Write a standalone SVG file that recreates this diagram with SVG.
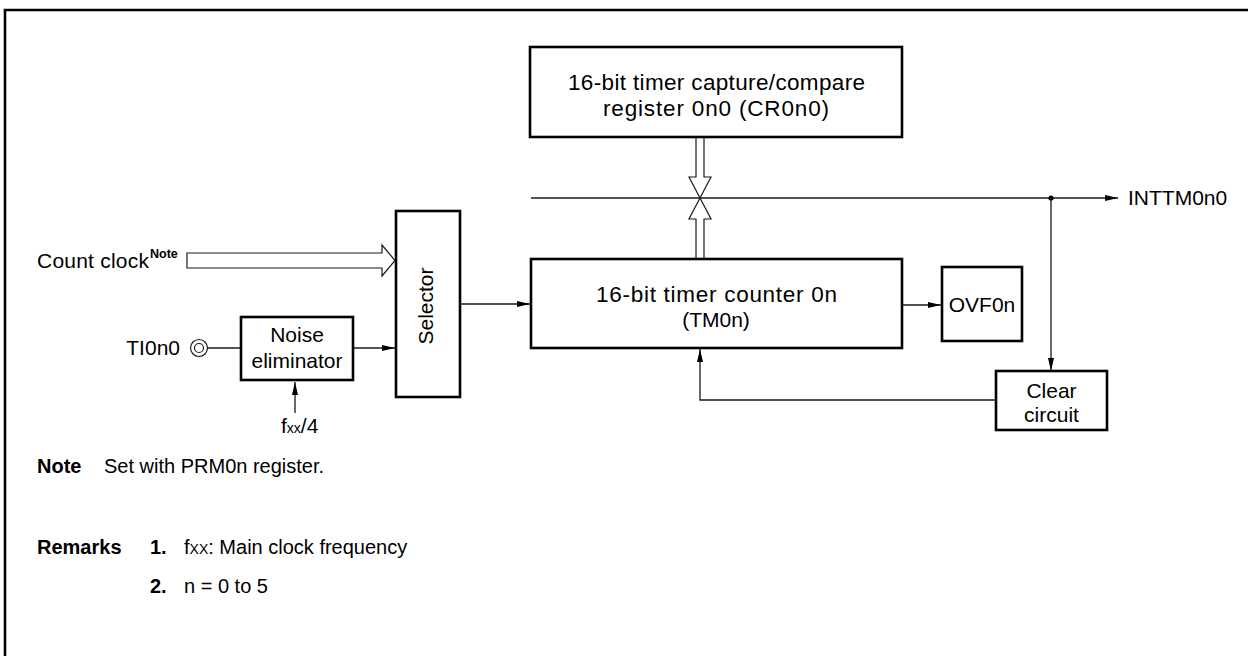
<svg xmlns="http://www.w3.org/2000/svg" width="1248" height="656" viewBox="0 0 1248 656">
<style>
  .box { fill: #fff; stroke: #000; stroke-width: 2.6; }
  .ln { fill: none; stroke: #1a1a1a; stroke-width: 1.3; }
  .hollow { fill: #fff; stroke: #1a1a1a; stroke-width: 1.2; stroke-linejoin: miter; }
  .t { font-family: "Liberation Sans", Arial, sans-serif; font-size: 21px; fill: #000; }
  .big { font-size: 22.5px; }
  .sup { font-size: 12.5px; font-weight: bold; }
  .sub { font-size: 14px; }
  .c { text-anchor: middle; }
  .b { font-weight: bold; }
  .n { font-family: "Liberation Sans", Arial, sans-serif; font-size: 20px; fill: #000; }
</style>
<defs>
  <marker id="ah" viewBox="0 0 13 6" refX="13" refY="3" markerWidth="13" markerHeight="6" markerUnits="userSpaceOnUse" orient="auto">
    <path d="M0,0 L13,3 L0,6 z" fill="#000"/>
  </marker>
</defs>
<rect width="1248" height="656" fill="#fff"/>
<path d="M5,660 V10 H1252" fill="none" stroke="#000" stroke-width="2.6"/>

<g id="connectors">
  <line class="ln" x1="531" y1="198" x2="1118" y2="198" marker-end="url(#ah)"/>
  <circle cx="1051" cy="198" r="2.6" fill="#000"/>
  <line class="ln" x1="1051" y1="198" x2="1051" y2="371" marker-end="url(#ah)"/>
  <polyline class="ln" points="996,400 700,400 700,349" marker-end="url(#ah)"/>
  <line class="ln" x1="460" y1="304" x2="530" y2="304" marker-end="url(#ah)"/>
  <line class="ln" x1="902" y1="305" x2="941" y2="305" marker-end="url(#ah)"/>
  <line class="ln" x1="353" y1="348" x2="395" y2="348" marker-end="url(#ah)"/>
  <line class="ln" x1="295" y1="413" x2="295" y2="382" marker-end="url(#ah)"/>
  <line class="ln" x1="207.5" y1="348" x2="241" y2="348"/>
  <polygon class="hollow" points="187,253 382,253 382,245 395,260.5 382,276 382,268 187,268"/>
  <polygon class="hollow" points="696,137 696,177 689,177 700,198 711,177 704,177 704,137"/>
  <polygon class="hollow" points="696,259 696,219 689,219 700,198 711,219 704,219 704,259"/>
</g>

<g id="ti0n0">
  <circle cx="199" cy="348" r="8.5" fill="#fff" stroke="#1a1a1a" stroke-width="1.2"/>
  <circle cx="199" cy="348" r="4.5" fill="#fff" stroke="#1a1a1a" stroke-width="1.2"/>
  <text class="t" x="180" y="355" text-anchor="end">TI0n0</text>
</g>

<g id="count-clock">
  <text class="t" x="37" y="268" textLength="112" lengthAdjust="spacing">Count clock</text>
  <text class="t sup" x="150" y="258">Note</text>
</g>

<g id="noise-eliminator">
  <rect class="box" x="241" y="317" width="112" height="63"/>
  <text class="t c" x="297" y="342">Noise</text>
  <text class="t c" x="297" y="368">eliminator</text>
</g>

<g id="fxx4">
  <text class="t" x="281" y="433">f<tspan class="sub">xx</tspan>/4</text>
</g>

<g id="selector">
  <rect class="box" x="396" y="211" width="64" height="186"/>
  <text class="t c" x="433" y="306" transform="rotate(-90 433 306)">Selector</text>
</g>

<g id="cr0n0">
  <rect class="box" x="530" y="47" width="372" height="90"/>
  <text class="t big" x="568" y="90" textLength="297" lengthAdjust="spacing">16-bit timer capture/compare</text>
  <text class="t big" x="603" y="116" textLength="226" lengthAdjust="spacing">register 0n0 (CR0n0)</text>
</g>

<g id="tm0n">
  <rect class="box" x="531" y="259" width="371" height="89"/>
  <text class="t big" x="596" y="302" textLength="241" lengthAdjust="spacing">16-bit timer counter 0n</text>
  <text class="t c" x="716" y="327">(TM0n)</text>
</g>

<g id="ovf0n">
  <rect class="box" x="942" y="267" width="80" height="74"/>
  <text class="t c" x="982" y="312">OVF0n</text>
</g>

<g id="clear-circuit">
  <rect class="box" x="996" y="371" width="111" height="59"/>
  <text class="t c" x="1051.5" y="398">Clear</text>
  <text class="t c" x="1051.5" y="422">circuit</text>
</g>

<g id="inttm0n0">
  <text class="t" x="1128" y="205">INTTM0n0</text>
</g>

<g id="notes">
  <text class="n b" x="37" y="473">Note</text>
  <text class="n" x="104" y="473">Set with PRM0n register.</text>
  <text class="n b" x="37" y="554">Remarks</text>
  <text class="n b" x="150" y="554">1.</text>
  <text class="n" x="184" y="554">f<tspan class="sub">XX</tspan>: Main clock frequency</text>
  <text class="n b" x="150" y="593">2.</text>
  <text class="n" x="184" y="593">n = 0 to 5</text>
</g>
</svg>
